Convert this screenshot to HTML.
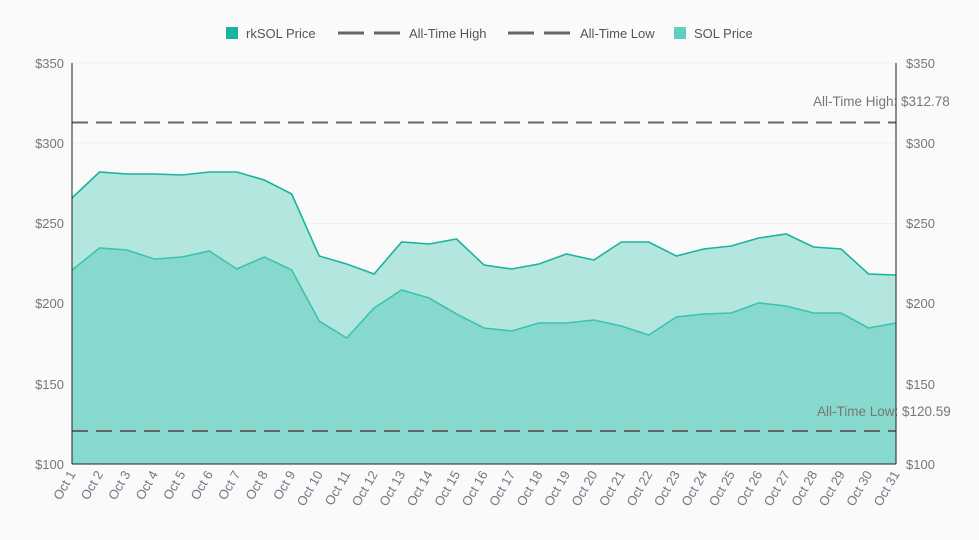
<!DOCTYPE html>
<html><head><meta charset="utf-8"><style>
body{margin:0;background:#fafafa;}
svg{display:block;font-family:"Liberation Sans",sans-serif;}
.t{font-size:13px;fill:#757585;}
.l{font-size:13px;fill:#555;}
</style></head><body>
<svg id="s" width="979" height="540" viewBox="0 0 979 540">
<rect width="979" height="540" fill="#fafafa"/>
<g id="grid" stroke="#f0f0f0" stroke-width="1">
<line x1="72" x2="896" y1="63" y2="63"/><line x1="72" x2="896" y1="143" y2="143"/><line x1="72" x2="896" y1="223.5" y2="223.5"/><line x1="72" x2="896" y1="303.5" y2="303.5"/><line x1="72" x2="896" y1="384" y2="384"/>
</g>
<path id="a1" fill="#b3e6df"/>
<path id="a2" fill="#86d9cc"/>
<path id="p1" fill="none" stroke="#1ab49c" stroke-width="1.6"/>
<path id="p2" fill="none" stroke="#3cc4ae" stroke-width="1.6"/>
<line x1="72" x2="896" y1="122.5" y2="122.5" stroke="#666" stroke-width="2" stroke-dasharray="16,8"/>
<line x1="72" x2="896" y1="431" y2="431" stroke="#666" stroke-width="2" stroke-dasharray="16,8"/>
<text x="813" y="106" class="l" style="fill:#777;font-size:13.5px">All-Time High: $312.78</text>
<text x="817" y="416" class="l" style="fill:#777;font-size:13.5px">All-Time Low: $120.59</text>
<line x1="72" x2="72" y1="63" y2="464" stroke="#222"/>
<line x1="896" x2="896" y1="63" y2="464" stroke="#222"/>
<line x1="72" x2="896" y1="464" y2="464" stroke="#222"/>
<g class="t" text-anchor="end">
<text x="64" y="68">$350</text><text x="64" y="148">$300</text><text x="64" y="228">$250</text><text x="64" y="308">$200</text><text x="64" y="389">$150</text><text x="64" y="469">$100</text>
</g>
<g class="t" text-anchor="start">
<text x="906" y="68">$350</text><text x="906" y="148">$300</text><text x="906" y="228">$250</text><text x="906" y="308">$200</text><text x="906" y="389">$150</text><text x="906" y="469">$100</text>
</g>
<g id="xt" class="t" text-anchor="end">
<text transform="translate(76,474) rotate(-60)">Oct 1</text>
<text transform="translate(103.5,474) rotate(-60)">Oct 2</text>
<text transform="translate(130.9,474) rotate(-60)">Oct 3</text>
<text transform="translate(158.4,474) rotate(-60)">Oct 4</text>
<text transform="translate(185.9,474) rotate(-60)">Oct 5</text>
<text transform="translate(213.4,474) rotate(-60)">Oct 6</text>
<text transform="translate(240.8,474) rotate(-60)">Oct 7</text>
<text transform="translate(268.3,474) rotate(-60)">Oct 8</text>
<text transform="translate(295.8,474) rotate(-60)">Oct 9</text>
<text transform="translate(323.2,474) rotate(-60)">Oct 10</text>
<text transform="translate(350.7,474) rotate(-60)">Oct 11</text>
<text transform="translate(378.2,474) rotate(-60)">Oct 12</text>
<text transform="translate(405.6,474) rotate(-60)">Oct 13</text>
<text transform="translate(433.1,474) rotate(-60)">Oct 14</text>
<text transform="translate(460.6,474) rotate(-60)">Oct 15</text>
<text transform="translate(488.1,474) rotate(-60)">Oct 16</text>
<text transform="translate(515.5,474) rotate(-60)">Oct 17</text>
<text transform="translate(543,474) rotate(-60)">Oct 18</text>
<text transform="translate(570.5,474) rotate(-60)">Oct 19</text>
<text transform="translate(597.9,474) rotate(-60)">Oct 20</text>
<text transform="translate(625.4,474) rotate(-60)">Oct 21</text>
<text transform="translate(652.9,474) rotate(-60)">Oct 22</text>
<text transform="translate(680.3,474) rotate(-60)">Oct 23</text>
<text transform="translate(707.8,474) rotate(-60)">Oct 24</text>
<text transform="translate(735.3,474) rotate(-60)">Oct 25</text>
<text transform="translate(762.8,474) rotate(-60)">Oct 26</text>
<text transform="translate(790.2,474) rotate(-60)">Oct 27</text>
<text transform="translate(817.7,474) rotate(-60)">Oct 28</text>
<text transform="translate(845.2,474) rotate(-60)">Oct 29</text>
<text transform="translate(872.6,474) rotate(-60)">Oct 30</text>
<text transform="translate(900,474) rotate(-60)">Oct 31</text>
</g>
<g class="l">
<rect x="226" y="27" width="12" height="12" fill="#1ab49c"/>
<text x="246" y="38">rkSOL Price</text>
<line x1="338" x2="364" y1="33" y2="33" stroke="#666" stroke-width="3"/>
<line x1="374" x2="400" y1="33" y2="33" stroke="#666" stroke-width="3"/>
<text x="409" y="38">All-Time  High</text>
<line x1="508" x2="534" y1="33" y2="33" stroke="#666" stroke-width="3"/>
<line x1="544" x2="570" y1="33" y2="33" stroke="#666" stroke-width="3"/>
<text x="580" y="38">All-Time Low</text>
<rect x="674" y="27" width="12" height="12" fill="#5fd0bf"/>
<text x="694" y="38">SOL Price</text>
</g>
</svg>
<script>
var A=[198,172,174,174,175,172,172,180,194,256,264,274,242,244,239,265,269,264,254,260,242,242,256,249,246,238,234,247,249,274,275];
var B=[270,248,250,259,257,251,269,257,270,321,338,308,290,298,314,328,331,323,323,320,326,335,317,314,313,303,306,313,313,328,323];
function X(i){return 72+i*27.467;}
function ln(d){return d.map(function(v,i){return (i?'L':'M')+X(i).toFixed(1)+','+v}).join('');}
var la=ln(A),lb=ln(B);
document.getElementById('p1').setAttribute('d',la);
document.getElementById('p2').setAttribute('d',lb);
document.getElementById('a1').setAttribute('d',la+'L896,464L72,464Z');
document.getElementById('a2').setAttribute('d',lb+'L896,464L72,464Z');
</script>
</body></html>
